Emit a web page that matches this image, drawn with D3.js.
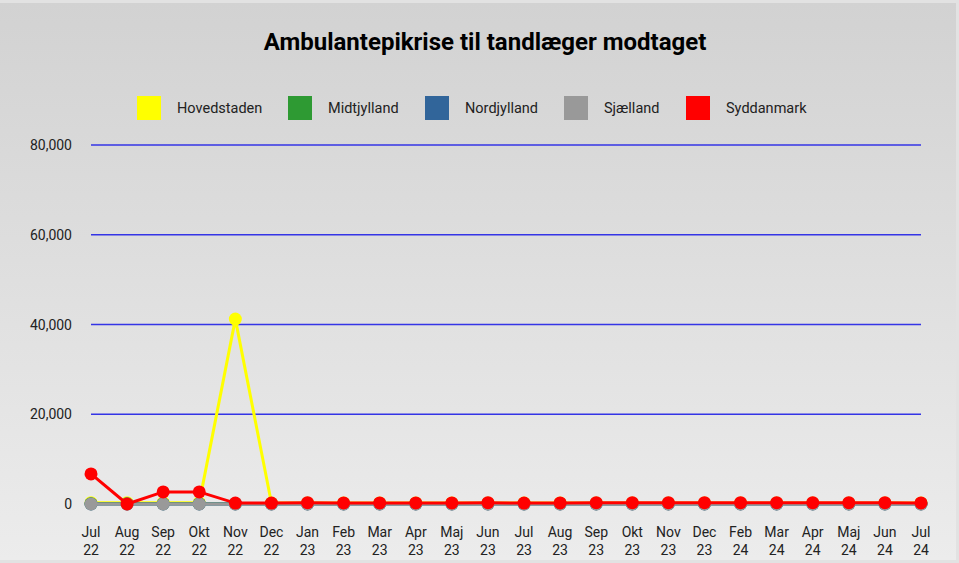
<!DOCTYPE html>
<html>
<head>
<meta charset="utf-8">
<script src="https://cdn.jsdelivr.net/npm/d3@7"></script>
<style>
  body { margin: 0; background: #e2e2e2; }
  svg { display: block; font-family: Roboto, "Noto Sans", sans-serif; }
</style>
</head>
<body>
<svg id="chart" width="959" height="563"></svg>
<script>
// months Jul 22 .. Jul 24 (the source skips Jan 24)
const categories = ["Jul 22","Aug 22","Sep 22","Okt 22","Nov 22","Dec 22","Jan 23","Feb 23","Mar 23","Apr 23","Maj 23","Jun 23",
                    "Jul 23","Aug 23","Sep 23","Okt 23","Nov 23","Dec 23","Feb 24","Mar 24","Apr 24","Maj 24","Jun 24","Jul 24"];

const seriesNames = ["Hovedstaden","Midtjylland","Nordjylland","Sjælland","Syddanmark"];
const seriesColors = ["#ffff00","#2e9a33","#31659a","#999999","#ff0000"];

const hovedstaden = [300,300,300,300,41200,200,200,200,200,200,200,200,200,200,200,200,200,200,200,200,200,200,200,200];
const midtjylland = [50,50,50,50,50,50,50,50,50,50,50,50,50,50,50,50,50,50,50,50,50,50,50,50];
const nordjylland = [0,0,0,0,0,0,0,0,0,0,0,0,0,0,0,0,0,0,0,0,0,0,0,0];
const sjaelland   = [0,0,0,0,0,0,0,0,0,0,0,0,0,0,0,0,0,0,0,0,0,0,0,0];
const syddanmark  = [6700,0,2700,2700,200,200,300,250,250,250,250,300,200,250,300,300,300,300,300,300,300,300,300,250];

const yTicks = [0,20000,40000,60000,80000];

const svg = d3.select("#chart");

const defs = svg.append("defs");
const grad = defs.append("linearGradient").attr("id","bg").attr("x1",0).attr("y1",0).attr("x2",0).attr("y2",1);
grad.append("stop").attr("offset","0%").attr("stop-color","#d2d2d2");
grad.append("stop").attr("offset","100%").attr("stop-color","#ececec");
svg.append("rect").attr("x",0).attr("y",3).attr("width",956).attr("height",557).attr("fill","url(#bg)");

const x = d3.scalePoint().domain(d3.range(categories.length)).range([91, 921]);
const y = d3.scaleLinear().domain([0, 80000]).range([504, 145]);

// title
svg.append("text").attr("x", 485).attr("y", 50).attr("text-anchor","middle")
  .style("font-size","24px").style("font-weight","bold").style("fill","#000")
  .text("Ambulantepikrise til tandlæger modtaget");

// legend
const legendX = [137, 288, 425, 564, 686];
const leg = svg.append("g").selectAll("g").data(seriesNames).enter().append("g")
  .attr("transform", (d,i) => `translate(${legendX[i]},96)`);
leg.append("rect").attr("width",24).attr("height",24).attr("fill",(d,i)=>seriesColors[i]);
leg.append("text").attr("x",40).attr("y",17).style("font-size","14.5px").style("fill","#222").text(d=>d);

// gridlines + y labels
const grid = svg.append("g");
grid.selectAll("line").data(yTicks).enter().append("line")
  .attr("x1",91).attr("x2",921).attr("y1",d=>y(d)).attr("y2",d=>y(d))
  .attr("stroke","#3434e6").attr("stroke-width",1.3);
grid.selectAll("text").data(yTicks).enter().append("text")
  .attr("x",72).attr("y",d=>y(d)+5).attr("text-anchor","end")
  .style("font-size","14px").style("fill","#222")
  .text(d => d3.format(",")(d));

// x labels, two lines
const xl = svg.append("g").selectAll("text").data(categories).enter().append("text")
  .attr("text-anchor","middle").style("font-size","14px").style("fill","#222");
xl.append("tspan").attr("x",(d,i)=>x(i)).attr("y",537).text(d=>d.split(" ")[0]);
xl.append("tspan").attr("x",(d,i)=>x(i)).attr("y",555).text(d=>d.split(" ")[1]);

// series, Syddanmark drawn last (on top)
const allSeries = [hovedstaden, midtjylland, nordjylland, sjaelland, syddanmark];
const line = d3.line().x((d,i)=>x(i)).y(d=>y(d));
allSeries.forEach((vals, s) => {
  const g = svg.append("g");
  g.append("path").datum(vals).attr("d", line).attr("fill","none")
    .attr("stroke", seriesColors[s]).attr("stroke-width",3);
  g.selectAll("circle").data(vals).enter().append("circle")
    .attr("cx",(d,i)=>x(i)).attr("cy",d=>y(d)).attr("r",6.5).attr("fill",seriesColors[s]);
});
</script>
</body>
</html>
